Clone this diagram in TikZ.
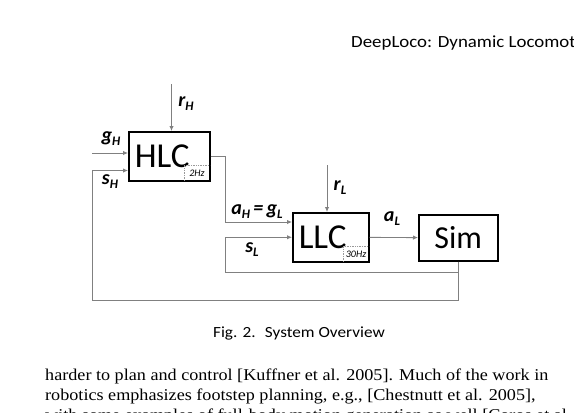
\documentclass[tikz,border=0pt]{standalone}
\usepackage{fontspec}
\setmainfont[FakeStretch=1.1]{Liberation Serif}
\newfontfamily\blockfont{Carlito}
\newfontfamily\headfont[FakeStretch=1.11]{Carlito}
\usetikzlibrary{positioning,arrows.meta}
\tikzset{
    block/.style = {draw=black, line width=1.5pt, rectangle, inner xsep=6pt, inner ysep=0pt, minimum height=49pt, align=left, anchor=north west, font=\blockfont\fontsize{35}{35}\selectfont},
    rate/.style = {inner sep=0pt, minimum width=25pt, minimum height=15pt, anchor=south east, font=\blockfont\itshape\fontsize{10}{10}\selectfont},
    rate-edge/.style = {draw=gray!80, densely dotted, line width=0.7pt},
    sig/.style = {draw=gray, line width=0.9pt, -{Latex[length=5pt,width=4.5pt]}},
    sig-label/.style = {inner sep=0pt, font=\blockfont\bfseries\itshape\fontsize{20}{20}\selectfont},
    page-text/.style = {inner sep=0pt, anchor=base west, font=\fontsize{16.5}{20}\selectfont},
}
\newcommand{\subs}[2]{#1\raisebox{-4pt}{\fontsize{13}{13}\selectfont #2}}

\begin{document}
\begin{tikzpicture}[x=1pt, y=-1pt]
\useasboundingbox (0,0) rectangle (574,413);
\clip (0,0) rectangle (574,413);

% page around the figure
\node[page-text, font=\headfont\fontsize{17}{17}\selectfont] (header) at (351,47) {DeepLoco: Dynamic Locomotion};
\node[page-text, anchor=base, font=\headfont\fontsize{15.5}{15.5}\selectfont] (caption) at (299,337) {Fig. 2.\hspace{0.6em}System Overview};
\node[page-text] (body1) at (45,380) {harder to plan and control [Kuffner et al. 2005]. Much of the work in};
\node[page-text] (body2) at (45,400) {robotics emphasizes footstep planning, e.g., [Chestnutt et al. 2005],};
\node[page-text] (body3) at (45,420) {with some examples of full-body motion generation as well [Coros et al.};

% controllers and simulation
\node[block, text width=69pt] (hlc) at (128,131) {HLC};
\node[block, text width=64pt] (llc) at (292,212) {LLC};
\node[block, text width=67pt, align=center, minimum height=46pt, font=\blockfont\fontsize{32}{32}\selectfont] (sim) at (418,214) {Sim};

\node[rate] (hlcrate) at ([shift={(-0.75pt,0.75pt)}]hlc.south east) {2Hz};
\draw[rate-edge] (hlcrate.south west) |- (hlcrate.north east);
\node[rate] (llcrate) at ([shift={(-0.75pt,0.75pt)}]llc.south east) {30Hz};
\draw[rate-edge] (llcrate.south west) |- (llcrate.north east);

% inputs
\coordinate (rH) at (171.5,84);
\coordinate (gH) at (92,153);
\coordinate (rL) at (327,165);
\coordinate (aH) at (225,222);
\coordinate (fbH) at (92,300);
\coordinate (fbL) at (225,272);

\draw[sig] (rH) -- (rH |- hlc.north);
\draw[sig] (gH) -- (gH -| hlc.west);
\draw[sig] (hlc.east) -| (aH) -- (aH -| llc.west);
\draw[sig] (rL) -- (rL |- llc.north);
\draw[sig] (llc) -- (sim);

% state feedback
\draw[sig] (sim.south) |- (fbH) |- ([yshift=11pt]hlc.south west);
\draw[sig] (sim.south) |- (fbL) |- (llc.west);

% labels
\node[sig-label] (rHlabel) at (186,104) {\subs{r}{H}};
\node[sig-label] (gHlabel) at (111,139) {\subs{g}{H}};
\node[sig-label] (sHlabel) at (110,182) {\subs{s}{H}};
\node[sig-label] (rLlabel) at (340,188) {\subs{r}{L}};
\node[sig-label] (aHlabel) at (257,212) {\subs{a}{H}\,=\,\subs{g}{L}};
\node[sig-label] (sLlabel) at (252,250) {\subs{s}{L}};
\node[sig-label] (aLlabel) at (392,219) {\subs{a}{L}};
\end{tikzpicture}
\end{document}
